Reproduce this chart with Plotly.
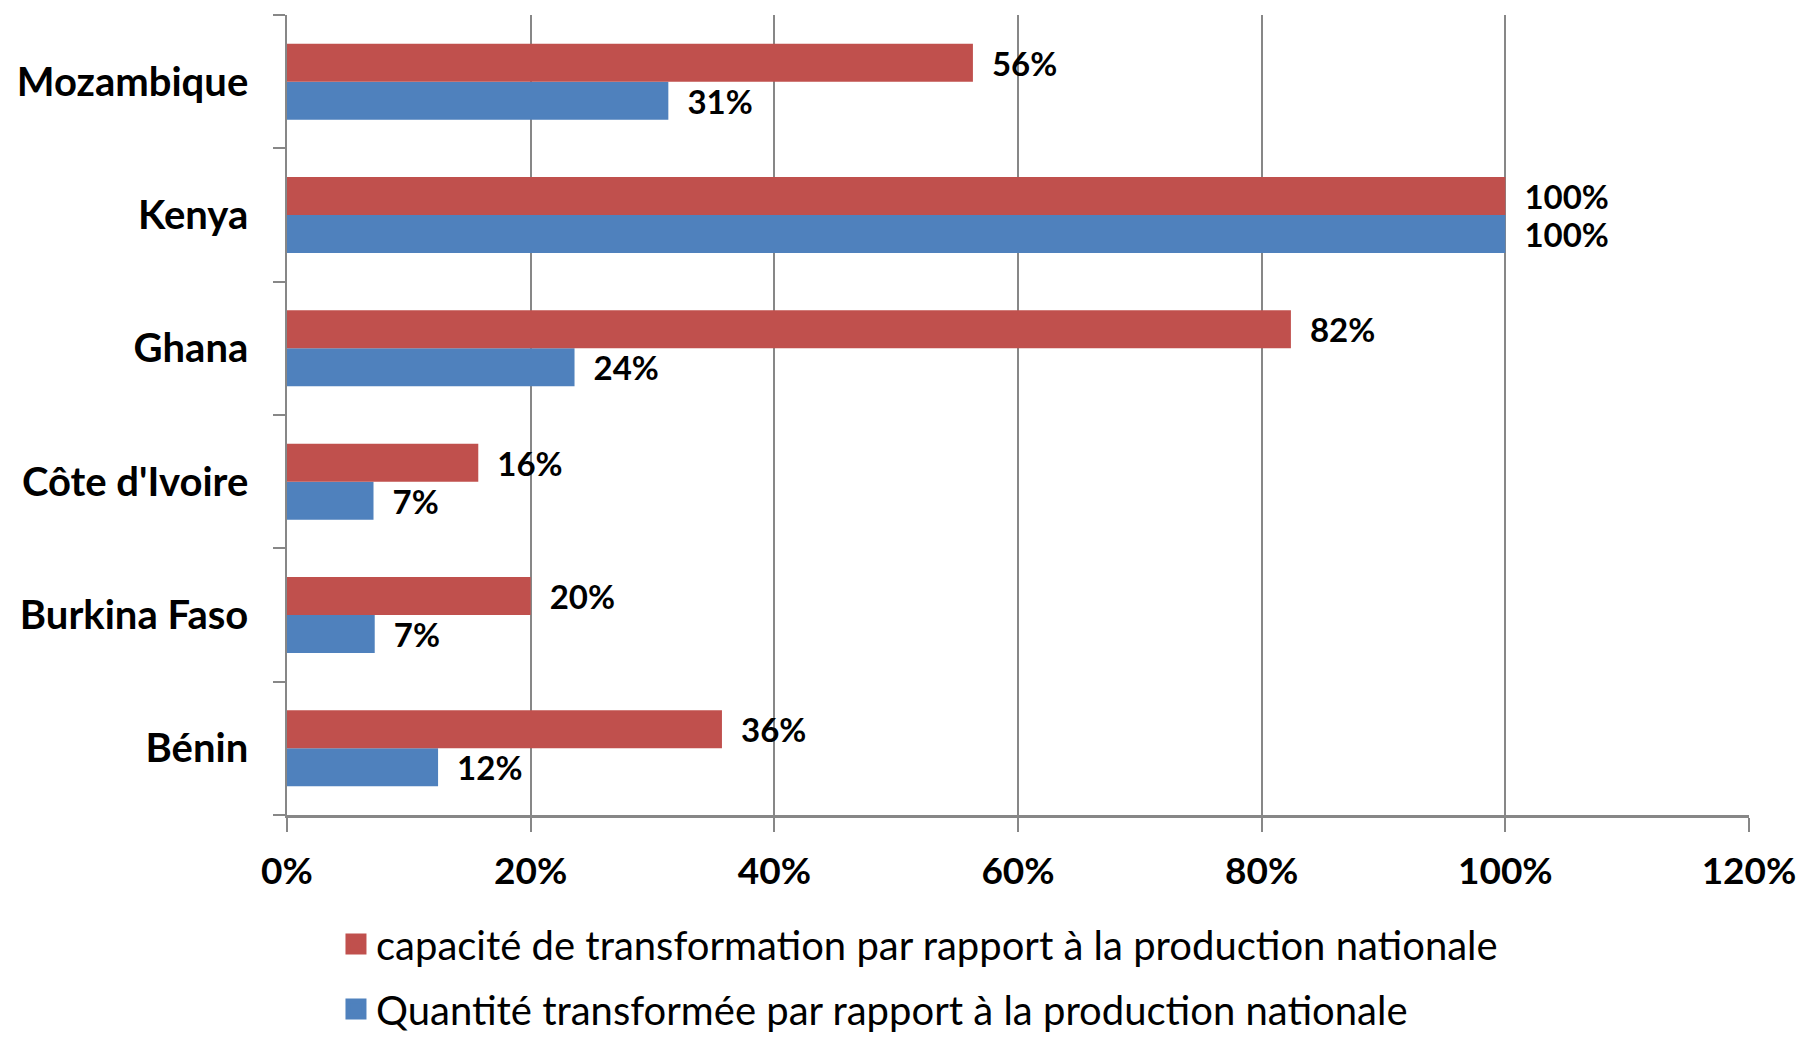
import plotly.graph_objects as go

categories = ["Bénin", "Burkina Faso", "Côte d'Ivoire", "Ghana", "Kenya", "Mozambique"]
capacite = [35.7, 20.0, 15.7, 82.4, 100.0, 56.3]
quantite = [12.4, 7.2, 7.1, 23.6, 100.0, 31.3]
x_ticks = [0, 20, 40, 60, 80, 100, 120]
x_ticklabels = ["0%", "20%", "40%", "60%", "80%", "100%", "120%"]
name_capacite = "capacité de transformation par rapport à la production nationale"
name_quantite = "Quantité transformée par rapport à la production nationale"

RED = "#C0504D"
BLUE = "#4F81BD"
GRID = "#878787"
FONT = "Lato"

label_font = dict(family=FONT, size=33, color="black", weight="bold")

fig = go.Figure()
fig.add_trace(go.Bar(
    y=categories, x=quantite, orientation="h", name=name_quantite,
    marker=dict(color=BLUE, line=dict(width=0)),
    texttemplate="\u00a0\u00a0%{x:.0f}%", textposition="outside",
    textfont=label_font, constraintext="none", cliponaxis=False,
    showlegend=False, hoverinfo="skip",
))
fig.add_trace(go.Bar(
    y=categories, x=capacite, orientation="h", name=name_capacite,
    marker=dict(color=RED, line=dict(width=0)),
    texttemplate="\u00a0\u00a0%{x:.0f}%", textposition="outside",
    textfont=label_font, constraintext="none", cliponaxis=False,
    showlegend=False, hoverinfo="skip",
))
# legend entries (square swatches like the original)
for nm, col, grp in [(name_capacite, RED, "c"), (name_quantite, BLUE, "q")]:
    fig.add_trace(go.Scatter(
        x=[None], y=[None], mode="markers", name=nm,
        marker=dict(symbol="square", size=16, color=col, line=dict(color=col, width=5)),
        legendgroup=grp, showlegend=True, hoverinfo="skip",
    ))

fig.update_layout(
    width=1803, height=1037,
    margin=dict(l=287, r=54, t=15, b=222, autoexpand=False),
    paper_bgcolor="white", plot_bgcolor="white",
    barmode="group", bargap=0.43, bargroupgap=0,
    font=dict(family=FONT, color="black"),
    showlegend=True,
    legend=dict(
        x=0.0335, xanchor="left", y=-0.1205, yanchor="top",
        font=dict(family=FONT, size=40, color="black"),
        traceorder="grouped", tracegroupgap=10,
        bgcolor="rgba(0,0,0,0)", itemsizing="trace",
    ),
    xaxis=dict(
        range=[0, 120], tickvals=x_ticks, ticktext=x_ticklabels,
        showgrid=True, gridcolor=GRID, gridwidth=1.5,
        zeroline=False, showline=True, linecolor=GRID, linewidth=2.5,
        ticks="outside", ticklen=14, tickcolor=GRID, tickwidth=1.5,
        ticklabelstandoff=8, automargin=False,
        tickfont=dict(family=FONT, size=37, color="black", weight="bold"),
        fixedrange=True,
    ),
    yaxis=dict(
        categoryorder="array", categoryarray=categories,
        showgrid=False, zeroline=False, showline=True, linecolor=GRID, linewidth=1.5,
        ticks="outside", tickson="boundaries", ticklen=12, tickcolor=GRID, tickwidth=1.5,
        ticklabelstandoff=29, automargin=False,
        tickfont=dict(family=FONT, size=40, color="black", weight="bold"),
        fixedrange=True,
    ),
)

fig.write_html(
    "out.html",
    config={"displayModeBar": False},
    post_script="document.body.style.margin='0';document.body.style.overflow='hidden';",
)
